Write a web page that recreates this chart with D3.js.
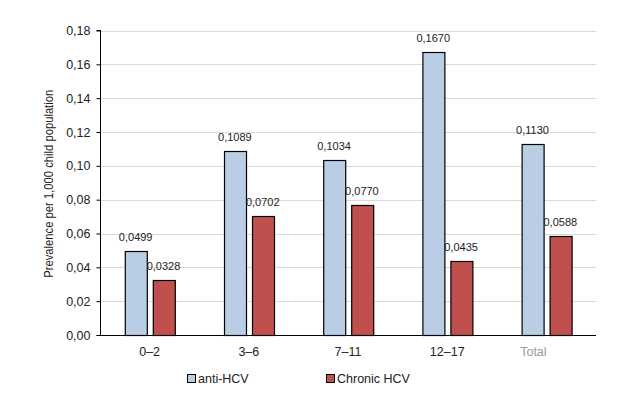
<!DOCTYPE html>
<html lang="en">
<head>
<meta charset="utf-8">
<script src="https://cdn.jsdelivr.net/npm/d3@7"></script>
<style>
  body { margin: 0; background: #fff; }
  svg text { font-family: "Liberation Sans", Arial, sans-serif; }
</style>
</head>
<body>
<div id="chart"></div>
<script>
  // data
  const categories = ['0–2', '3–6', '7–11', '12–17', 'Total']
  const seriesNames = ['anti-HCV', 'Chronic HCV']
  const antiHCV = [0.0499, 0.1089, 0.1034, 0.1670, 0.1130]
  const chronicHCV = [0.0328, 0.0702, 0.0770, 0.0435, 0.0588]
  const yTicks = [0, 0.02, 0.04, 0.06, 0.08, 0.10, 0.12, 0.14, 0.16, 0.18]
  const yTitle = 'Prevalence per 1,000 child population'

  const colors = { 'anti-HCV': '#b9cde5', 'Chronic HCV': '#c0504d' }

  const w = 620, h = 396
  const padL = 100, padR = 596, padT = 30.5, padB = 335

  const locale = d3.formatLocale({ decimal: ',', thousands: '.', grouping: [3], currency: ['', ''] })
  const fmtTick = locale.format('.2f')
  const fmtVal = locale.format('.4f')

  const svg = d3.select('#chart').append('svg')
      .attr('width', w)
      .attr('height', h)

  const x0 = d3.scaleBand()
      .domain(categories)
      .range([padL, padR])
      .paddingInner(0.5)
      .paddingOuter(0.25)

  const x1 = d3.scaleBand()
      .domain(seriesNames)
      .range([0, x0.bandwidth()])
      .paddingInner(0.22)

  const y = d3.scaleLinear()
      .domain([0, 0.18])
      .range([padB, padT])

  // gridlines
  svg.append('g')
      .selectAll('line')
      .data(yTicks.slice(1))
      .enter()
      .append('line')
      .attr('x1', padL)
      .attr('x2', padR)
      .attr('y1', d => Math.round(y(d)) + 0.5)
      .attr('y2', d => Math.round(y(d)) + 0.5)
      .attr('stroke', '#d9d9d9')
      .attr('stroke-width', 1)

  const rows = categories.map((c, i) => ({
    cat: c,
    vals: [
      { s: 'anti-HCV', v: antiHCV[i] },
      { s: 'Chronic HCV', v: chronicHCV[i] }
    ]
  }))

  const groups = svg.append('g')
      .selectAll('g')
      .data(rows)
      .enter()
      .append('g')
      .attr('transform', d => 'translate(' + x0(d.cat) + ',0)')

  groups.selectAll('rect')
      .data(d => d.vals)
      .enter()
      .append('rect')
      .attr('x', d => Math.round(x1(d.s)) + 0.5)
      .attr('y', d => Math.round(y(d.v)) + 0.5)
      .attr('width', Math.round(x1.bandwidth()))
      .attr('height', d => padB - Math.round(y(d.v)))
      .attr('fill', d => colors[d.s])
      .attr('stroke', '#000')
      .attr('stroke-width', 1.2)

  groups.selectAll('text')
      .data(d => d.vals)
      .enter()
      .append('text')
      .attr('x', d => x1(d.s) + x1.bandwidth() / 2)
      .attr('y', d => y(d.v) - 10)
      .attr('text-anchor', 'middle')
      .attr('font-size', 11)
      .style('fill', '#222')
      .text(d => fmtVal(d.v))

  // y axis
  const yAxis = d3.axisLeft(y)
      .tickValues(yTicks)
      .tickFormat(fmtTick)
      .tickSize(4)
      .tickPadding(6)

  const gy = svg.append('g')
      .attr('transform', 'translate(' + (padL + 0.5) + ',0)')
      .call(yAxis)
  gy.select('.domain').attr('stroke', '#000').attr('d', 'M-4,' + padT + 'H0V' + (padB + 0.5) + 'H-4')
  gy.selectAll('.tick line').attr('stroke', '#000')
  gy.selectAll('.tick text')
      .attr('font-size', 12.5)
      .style('fill', '#222')
      .style('font-family', '"Liberation Sans", Arial, sans-serif')

  // x axis
  const xAxis = d3.axisBottom(x0).tickSize(0).tickPadding(12)
  const gx = svg.append('g')
      .attr('transform', 'translate(0,' + (padB + 0.5) + ')')
      .call(xAxis)
  gx.select('.domain').attr('stroke', '#000').attr('d', 'M' + padL + ',0H' + padR)
  gx.selectAll('.tick text')
      .attr('font-size', 12.5)
      .style('font-family', '"Liberation Sans", Arial, sans-serif')
      .style('fill', d => d === 'Total' ? '#9a9a9a' : '#222')
      .attr('dx', d => d === 'Total' ? -13 : 0)

  // y title
  svg.append('text')
      .attr('transform', 'translate(53,' + ((padT + padB) / 2 + 1) + ') rotate(-90)')
      .attr('text-anchor', 'middle')
      .attr('font-size', 12.5)
      .attr('textLength', 188)
      .attr('lengthAdjust', 'spacingAndGlyphs')
      .style('fill', '#222')
      .text(yTitle)

  // legend
  const legendX = [187, 326]
  const legend = svg.append('g')
      .selectAll('g')
      .data(seriesNames)
      .enter()
      .append('g')
      .attr('transform', (d, i) => 'translate(' + legendX[i] + ',374)')

  legend.append('rect')
      .attr('x', 0.5)
      .attr('y', 0.5)
      .attr('width', 8)
      .attr('height', 8)
      .attr('fill', d => colors[d])
      .attr('stroke', '#000')

  legend.append('text')
      .attr('x', 11)
      .attr('y', 9)
      .attr('font-size', 12.5)
      .style('fill', '#222')
      .text(d => d)
</script>
</body>
</html>
